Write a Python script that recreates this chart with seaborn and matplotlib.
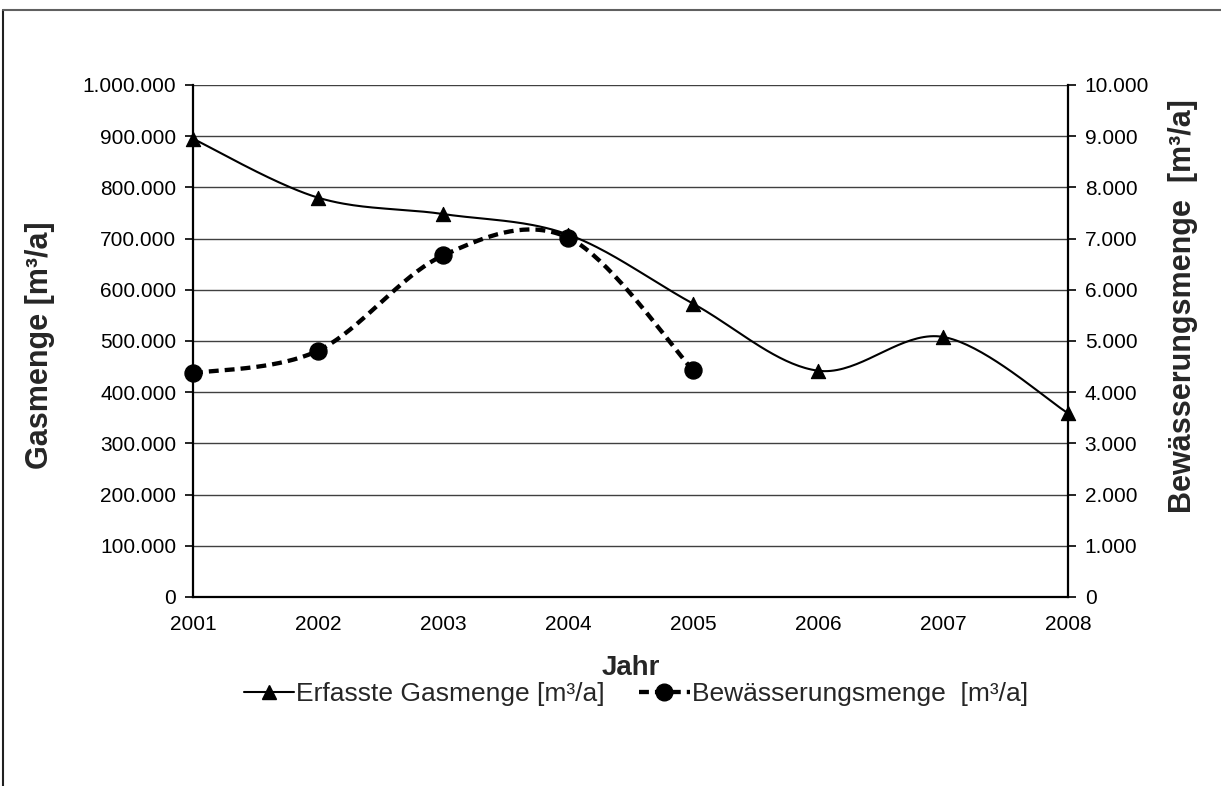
import numpy as np
import matplotlib
matplotlib.use('Agg')
import matplotlib.pyplot as plt
import seaborn as sns
from matplotlib.lines import Line2D
from matplotlib.ticker import FuncFormatter, MultipleLocator

sns.set_theme(style="white")
plt.rcParams['font.family'] = ['Liberation Sans', 'DejaVu Sans']

# --- Daten ---
jahre = [2001, 2002, 2003, 2004, 2005, 2006, 2007, 2008]
gasmenge = [895000, 780000, 748000, 708000, 573000, 442000, 508000, 359000]
jahre_bew = [2001, 2002, 2003, 2004, 2005]
bewaesserung = [4370, 4810, 6670, 7020, 4430]


def smooth(x, y, n=40):
    # Excel-artige geglaettete Linie (Bezier mit Catmull-Rom-Tangenten)
    p = np.column_stack([x, y]).astype(float)
    p = np.vstack([p[0], p, p[-1]])
    t = np.linspace(0, 1, n)[:, None]
    out = []
    for i in range(1, len(p) - 2):
        a, d = p[i], p[i + 1]
        b = a + (p[i + 1] - p[i - 1]) / 6
        c = d - (p[i + 2] - p[i]) / 6
        seg = (1 - t) ** 3 * a + 3 * (1 - t) ** 2 * t * b + 3 * (1 - t) * t ** 2 * c + t ** 3 * d
        out.append(seg if i == 1 else seg[1:])
    out = np.vstack(out)
    return out[:, 0], out[:, 1]


def de_fmt(v, pos):
    return f"{int(round(v)):,}".replace(",", ".")


fig = plt.figure(figsize=(12.21, 7.86), dpi=100)
ax = fig.add_axes([193 / 1221, 1 - 597 / 786, 875 / 1221, 512 / 786])
ax2 = ax.twinx()

# Gitter
ax.set_xlim(2001, 2008)
ax.set_ylim(0, 1000000)
ax2.set_ylim(0, 10000)
ax.yaxis.set_major_locator(MultipleLocator(100000))
ax2.yaxis.set_major_locator(MultipleLocator(1000))
ax.set_xticks(jahre)
ax.yaxis.grid(True, color='#404040', lw=1.0)
ax.set_axisbelow(True)

# Gasmenge
sx, sy = smooth(jahre, gasmenge)
sns.lineplot(x=sx, y=sy, ax=ax, sort=False, estimator=None, color='black', lw=1.5)
sns.scatterplot(x=jahre, y=gasmenge, ax=ax, marker='^', s=105, color='black',
                edgecolor='black', zorder=4, clip_on=False)

# Bewaesserung
bx, by = smooth(jahre_bew, bewaesserung)
sns.lineplot(x=bx, y=by, ax=ax2, sort=False, estimator=None, color='black', lw=3.1,
             linestyle=(0, (2.3, 1.4)))
sns.scatterplot(x=jahre_bew, y=bewaesserung, ax=ax2, marker='o', s=150, color='black',
                edgecolor='black', zorder=4, clip_on=False)

for a in (ax, ax2):
    a.yaxis.set_major_formatter(FuncFormatter(de_fmt))
    for s in a.spines.values():
        s.set_visible(False)
    a.tick_params(axis='both', direction='out', length=6, width=1.2, color='black',
                  labelsize=15, labelcolor='black')
    a.set_ylabel('')
    a.set_xlabel('')
ax.xaxis.set_major_formatter(FuncFormatter(lambda v, p: f"{int(v)}"))
ax.spines['left'].set_visible(True)
ax.spines['bottom'].set_visible(True)
ax2.spines['right'].set_visible(True)
for s in (ax.spines['left'], ax.spines['bottom'], ax2.spines['right']):
    s.set_color('black')
    s.set_linewidth(1.6)
ax.tick_params(axis='x', pad=7)
ax.tick_params(axis='y', pad=6)
ax2.tick_params(axis='y', pad=6)

# Achsentitel
fig.text(40 / 1221, 1 - 345 / 786, 'Gasmenge [m³/a]', rotation=90, ha='center', va='center',
         fontsize=22, fontweight='bold')
fig.text(1183 / 1221, 1 - 306 / 786, 'Bewässerungsmenge  [m³/a]', rotation=90, ha='center',
         va='center', fontsize=22, fontweight='bold')
fig.text(631 / 1221, 1 - 668 / 786, 'Jahr', ha='center', va='center', fontsize=20,
         fontweight='bold')

# Legende
handles = [
    Line2D([], [], color='black', lw=1.5, marker='^', markersize=10),
    Line2D([], [], color='black', lw=3.1, linestyle=(0, (2.3, 1.4)), marker='o', markersize=12),
]
fig.legend(handles, ['Erfasste Gasmenge [m³/a]', 'Bewässerungsmenge  [m³/a]'], loc='center',
           bbox_to_anchor=(636 / 1221, 1 - 694 / 786), ncol=2, frameon=False, fontsize=19,
           handlelength=1.9, handletextpad=0.1, columnspacing=1.3)

# Rahmen (oben und links sichtbar)
fig.add_artist(Line2D([3 / 1221, 3 / 1221], [0, 1 - 10 / 786], color='#202020', lw=1.5))
fig.add_artist(Line2D([3 / 1221, 1], [1 - 10 / 786, 1 - 10 / 786], color='#606060', lw=1.5))

fig.savefig('out.png', dpi=100)
